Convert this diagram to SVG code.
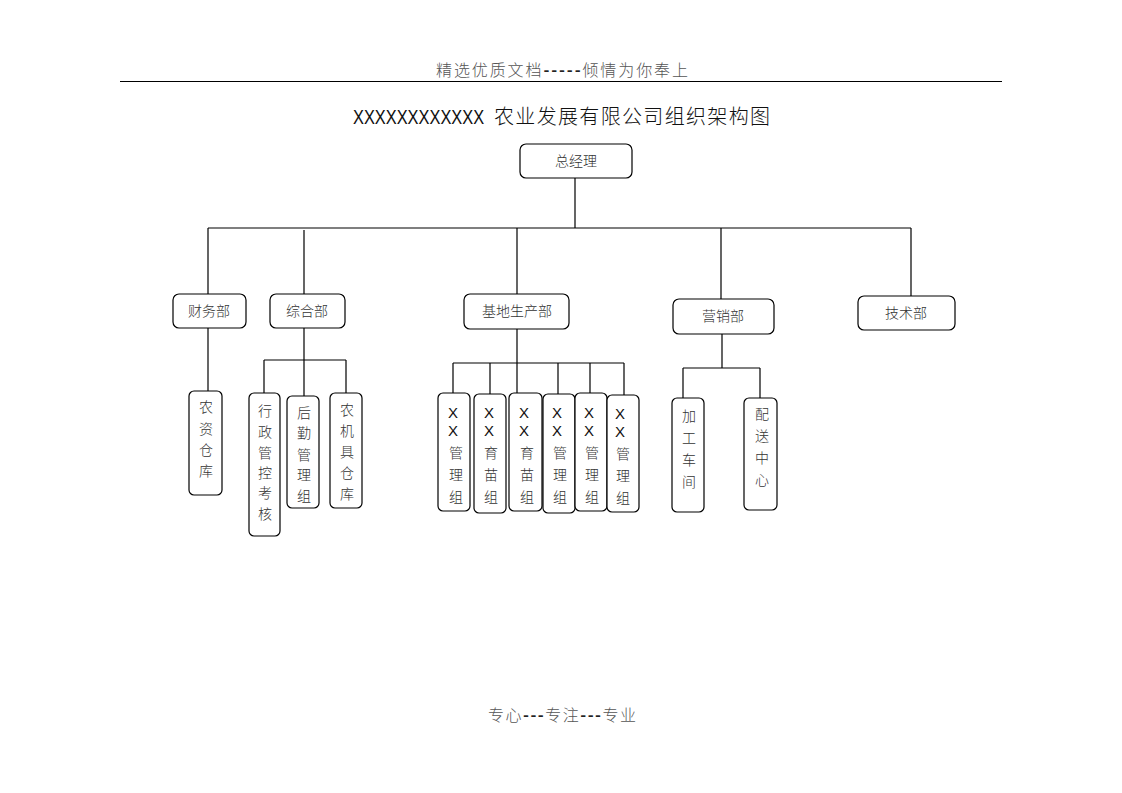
<svg xmlns="http://www.w3.org/2000/svg" width="1122" height="793" viewBox="0 0 1122 793">
<style>
.bg{fill:#ffffff}
.box{fill:#ffffff;stroke:#000;stroke-width:1.2}
.ln{stroke:#000;stroke-width:1.2;fill:none}
.t{font-family:"Noto Sans CJK SC","Liberation Sans",sans-serif;font-size:14px;fill:#333;text-anchor:middle;font-weight:300}
.x{font-family:"Liberation Sans","Noto Sans CJK SC",sans-serif;font-size:15px;fill:#111;text-anchor:middle}
.hd{font-family:"Noto Sans CJK SC","Liberation Sans",sans-serif;font-size:16px;fill:#555;text-anchor:middle;font-weight:300}
.dash{font-weight:700;fill:#222}
.ttl{font-family:"Noto Sans CJK SC","Liberation Sans",sans-serif;font-size:20px;fill:#111;font-weight:300}
</style>
<rect class="bg" x="0" y="0" width="1122" height="793"/>
<g id="header">
<text class="hd" x="562" y="76" textLength="252" lengthAdjust="spacing">精选优质文档<tspan class="dash">-----</tspan>倾情为你奉上</text>
<line x1="120" y1="81.5" x2="1002" y2="81.5" stroke="#000" stroke-width="1.2"/>
</g>
<g id="title">
<text class="ttl" transform="translate(353,124) scale(0.82,1)" x="0" y="0" style="font-family:'Liberation Sans',sans-serif">XXXXXXXXXXXX</text>
<text class="ttl" x="494" y="124" textLength="276" lengthAdjust="spacing">农业发展有限公司组织架构图</text>
</g>
<g id="connectors">
<path class="ln" d="M575,178V228M208,228H911M208,228V295M304,230V295M517,228V295M721,228V299M911,228V296"/>
<path class="ln" d="M208,328V391"/>
<path class="ln" d="M304,328V360M264,360H346M264,360V393M304,360V396M346,360V393"/>
<path class="ln" d="M517,329V363M453,363H624M453,363V393M490,363V394M517,363V393M558,363V394M590,363V393M624,363V395"/>
<path class="ln" d="M722,334V368M683,368H760M683,368V398M760,368V398"/>
</g>
<g id="n-gm"><rect class="box" x="520" y="144" width="112" height="34" rx="6"/><text class="t" x="576" y="166">总经理</text></g>
<g id="n-cw"><rect class="box" x="173" y="294" width="73" height="34" rx="6"/><text class="t" x="209" y="316">财务部</text></g>
<g id="n-zh"><rect class="box" x="270" y="294" width="75" height="34" rx="6"/><text class="t" x="307" y="316">综合部</text></g>
<g id="n-jd"><rect class="box" x="464" y="294" width="105" height="35" rx="6"/><text class="t" x="517" y="316">基地生产部</text></g>
<g id="n-yx"><rect class="box" x="673" y="299" width="101" height="35" rx="6"/><text class="t" x="723" y="321">营销部</text></g>
<g id="n-js"><rect class="box" x="858" y="296" width="97" height="34" rx="6"/><text class="t" x="906" y="318">技术部</text></g>
<g id="n-nzck"><rect class="box" x="189" y="391" width="33" height="104" rx="5"/>
<text class="t"><tspan x="206" y="412">农</tspan><tspan x="206" y="434">资</tspan><tspan x="206" y="455">仓</tspan><tspan x="206" y="476">库</tspan></text></g>
<g id="n-xzgk"><rect class="box" x="249" y="393" width="31" height="143" rx="5"/>
<text class="t"><tspan x="265" y="416">行</tspan><tspan x="265" y="437">政</tspan><tspan x="265" y="458">管</tspan><tspan x="265" y="478">控</tspan><tspan x="265" y="498">考</tspan><tspan x="265" y="519">核</tspan></text></g>
<g id="n-hq"><rect class="box" x="287" y="396" width="32" height="112" rx="5"/>
<text class="t"><tspan x="304" y="418">后</tspan><tspan x="304" y="438">勤</tspan><tspan x="304" y="460">管</tspan><tspan x="304" y="480">理</tspan><tspan x="304" y="501">组</tspan></text></g>
<g id="n-njj"><rect class="box" x="330" y="393" width="32" height="115" rx="5"/>
<text class="t"><tspan x="347" y="415">农</tspan><tspan x="347" y="436">机</tspan><tspan x="347" y="457">具</tspan><tspan x="347" y="478">仓</tspan><tspan x="347" y="499">库</tspan></text></g>
<g id="n-g1"><rect class="box" x="438" y="393" width="32" height="118" rx="5"/>
<text class="x"><tspan x="453" y="418">X</tspan><tspan x="453" y="436">X</tspan></text>
<text class="t"><tspan x="456" y="458">管</tspan><tspan x="456" y="480">理</tspan><tspan x="456" y="502">组</tspan></text></g>
<g id="n-g2"><rect class="box" x="474" y="394" width="32" height="119" rx="5"/>
<text class="x"><tspan x="489" y="418">X</tspan><tspan x="489" y="436">X</tspan></text>
<text class="t"><tspan x="491" y="458">育</tspan><tspan x="491" y="480">苗</tspan><tspan x="491" y="502">组</tspan></text></g>
<g id="n-g3"><rect class="box" x="509" y="393" width="33" height="118" rx="5"/>
<text class="x"><tspan x="524" y="418">X</tspan><tspan x="524" y="436">X</tspan></text>
<text class="t"><tspan x="527" y="458">育</tspan><tspan x="527" y="480">苗</tspan><tspan x="527" y="502">组</tspan></text></g>
<g id="n-g4"><rect class="box" x="543" y="394" width="32" height="119" rx="5"/>
<text class="x"><tspan x="557" y="418">X</tspan><tspan x="557" y="436">X</tspan></text>
<text class="t"><tspan x="560" y="458">管</tspan><tspan x="560" y="480">理</tspan><tspan x="560" y="502">组</tspan></text></g>
<g id="n-g5"><rect class="box" x="575" y="393" width="32" height="118" rx="5"/>
<text class="x"><tspan x="589" y="418">X</tspan><tspan x="589" y="436">X</tspan></text>
<text class="t"><tspan x="592" y="458">管</tspan><tspan x="592" y="480">理</tspan><tspan x="592" y="502">组</tspan></text></g>
<g id="n-g6"><rect class="box" x="607" y="395" width="32" height="117" rx="5"/>
<text class="x"><tspan x="620" y="419">X</tspan><tspan x="620" y="437">X</tspan></text>
<text class="t"><tspan x="623" y="459">管</tspan><tspan x="623" y="481">理</tspan><tspan x="623" y="503">组</tspan></text></g>
<g id="n-jg"><rect class="box" x="672" y="398" width="32" height="114" rx="5"/>
<text class="t"><tspan x="689" y="421">加</tspan><tspan x="689" y="443">工</tspan><tspan x="689" y="465">车</tspan><tspan x="689" y="487">间</tspan></text></g>
<g id="n-ps"><rect class="box" x="744" y="398" width="33" height="112" rx="5"/>
<text class="t"><tspan x="762" y="419">配</tspan><tspan x="762" y="441">送</tspan><tspan x="762" y="463">中</tspan><tspan x="762" y="485">心</tspan></text></g>
<g id="footer">
<text class="hd" x="562" y="721" textLength="148" lengthAdjust="spacing">专心<tspan class="dash">---</tspan>专注<tspan class="dash">---</tspan>专业</text>
</g>
</svg>
